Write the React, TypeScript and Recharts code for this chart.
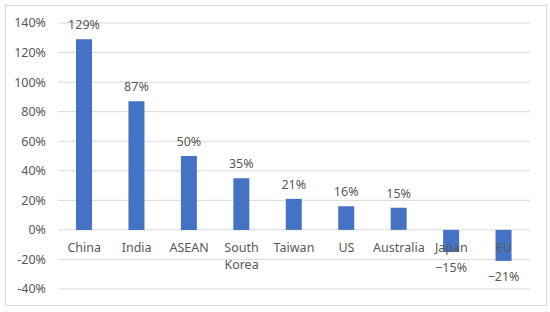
import React from "react";
import { BarChart, Bar, XAxis, YAxis, CartesianGrid, LabelList } from "recharts";

const categories = ["China", "India", "ASEAN", "South Korea", "Taiwan", "US", "Australia", "Japan", "EU"];
const growthValues = [129, 87, 50, 35, 21, 16, 15, -15, -21];
const yTicks = [-40, -20, 0, 20, 40, 60, 80, 100, 120, 140];

const data = categories.map((c, i) => ({ name: c, value: growthValues[i] }));

const CHART_W = 540;
const CHART_H = 299;
const X_AXIS_H = 2;
const MARGIN = { top: 17, right: 16, bottom: 14, left: 0 };
const Y_MIN = -40;
const Y_MAX = 140;
const PLOT_H = CHART_H - MARGIN.top - MARGIN.bottom - X_AXIS_H;
const FONT = "'Noto Sans', 'Open Sans', sans-serif";
const TEXT = "#595959";
const FS = 12.5;

const CategoryTick = (props: any) => {
  const { x, y, payload } = props;
  const zeroY = y - (PLOT_H * (0 - Y_MIN)) / (Y_MAX - Y_MIN);
  const lines = payload.value === "South Korea" ? ["South", "Korea"] : [payload.value];
  return (
    <g>
      {lines.map((l: string, i: number) => (
        <text
          key={i}
          x={x}
          y={zeroY + 22 + i * 17}
          textAnchor="middle"
          fill={TEXT}
          fontSize={FS}
          fontFamily={FONT}
        >
          {l}
        </text>
      ))}
    </g>
  );
};

const ValueLabel = (props: any) => {
  const { x, y, width, height, value } = props;
  const top = Math.min(y, y + height);
  const bottom = Math.max(y, y + height);
  const ty = value >= 0 ? top - 10 : bottom + 20;
  const txt = value >= 0 ? `${value}%` : `\u2212${Math.abs(value)}%`;
  return (
    <text x={x + width / 2} y={ty} textAnchor="middle" fill={TEXT} fontSize={FS} fontFamily={FONT}>
      {txt}
    </text>
  );
};

export default function App() {
  return (
    <div
      style={{
        position: "absolute",
        left: 5,
        top: 5,
        width: 542,
        height: 301,
        border: "1px solid #d9d9d9",
        boxSizing: "border-box",
        background: "#fff",
      }}
    >
      <BarChart width={CHART_W} height={CHART_H} data={data} margin={MARGIN}>
        <CartesianGrid vertical={false} stroke="#d9d9d9" strokeWidth={1} />
        <YAxis
          width={52}
          domain={[Y_MIN, Y_MAX]}
          ticks={yTicks}
          axisLine={false}
          tickLine={false}
          tickSize={6}
          tickMargin={6}
          tickFormatter={(v: number) => `${v}%`}
          tick={{ fill: TEXT, fontSize: FS, fontFamily: FONT }}
        />
        <Bar dataKey="value" fill="#4472C4" barSize={16} isAnimationActive={false}>
          <LabelList dataKey="value" content={<ValueLabel />} />
        </Bar>
        <XAxis
          dataKey="name"
          height={X_AXIS_H}
          axisLine={false}
          tickLine={false}
          tickSize={0}
          tickMargin={0}
          interval={0}
          tick={(p: any) => <CategoryTick {...p} />}
        />
      </BarChart>
    </div>
  );
}
